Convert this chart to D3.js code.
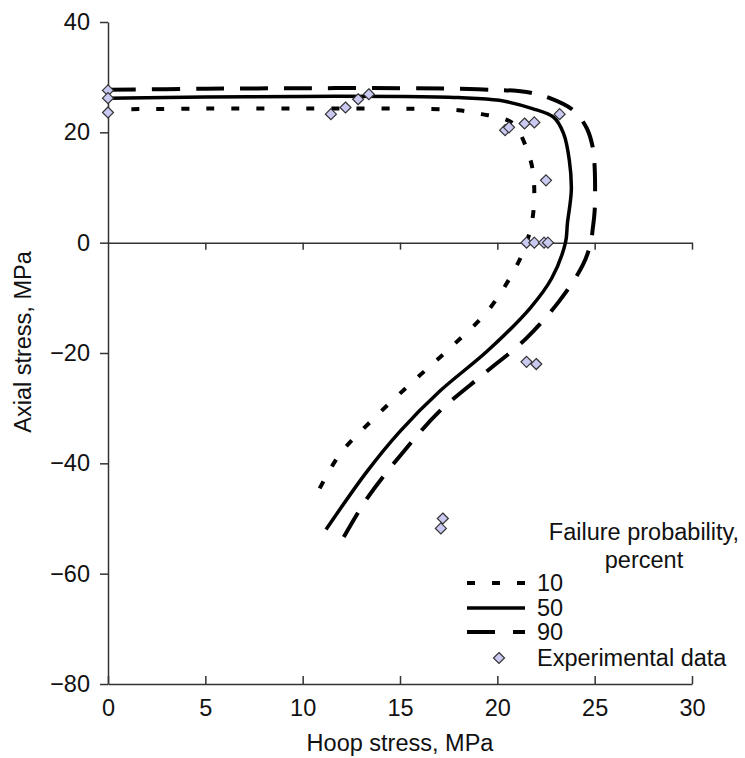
<!DOCTYPE html>
<html>
<head>
<meta charset="utf-8">
<script src="https://cdn.jsdelivr.net/npm/d3@7"></script>
<style>
  body { margin: 0; background: #fff; }
  svg text { font-family: "Liberation Sans", Arial, sans-serif; fill: #111; }
</style>
</head>
<body>
<div id="chart"></div>
<script>
// failure envelopes, hoop stress (x) vs axial stress (y), MPa
var p10Hoop  = [1.2, 5, 10, 15, 18, 19.2, 20.3, 20.9, 21.5, 21.8, 21.9, 21.8, 21.5, 20.9, 19.5, 17.6, 15.5, 13.5, 11.9, 10.6];
var p10Axial = [24.2, 24.3, 24.3, 24.3, 24.0, 23.3, 22.5, 21.3, 17.1, 13.5, 8.9, 4.2, 0, -4.8, -12.4, -19, -25.7, -32.4, -38.4, -46.4];

var p50Hoop  = [0, 5, 10, 15, 18, 20.1, 21.8, 22.9, 23.4, 23.7, 23.8, 23.6, 23.5, 22.8, 21.7, 19.5, 17.05, 15, 13.3, 11.2];
var p50Axial = [26.2, 26.4, 26.5, 26.5, 26.3, 25.8, 24.3, 22.7, 19.8, 14.9, 9.5, 3.5, 0, -6.4, -11.8, -19.6, -26.9, -34.2, -41.5, -52];

var p90Hoop  = [0, 5, 10, 15, 19, 21.5, 22.7, 23.9, 24.6, 24.9, 25, 25, 24.9, 24.8, 24.4, 23.2, 21.5, 19.3, 17.05, 15.2, 13.3, 11.9];
var p90Axial = [27.7, 27.9, 28, 28, 27.8, 27.3, 26.2, 24, 20.7, 17.3, 13.6, 5.8, 2.5, 0, -4, -10.5, -17.3, -23.8, -30.5, -37.8, -46.4, -54.7];

var expHoop  = [0, 0, 0, 11.45, 12.2, 12.85, 13.4, 20.4, 20.6, 21.4, 21.9, 23.2, 22.5, 21.5, 21.9, 22.4, 22.6, 21.5, 22, 17.2, 17.1];
var expAxial = [27.6, 26.2, 23.6, 23.3, 24.5, 26, 26.9, 20.4, 20.9, 21.6, 21.8, 23.3, 11.3, 0, 0, 0, 0, -21.6, -22, -50, -51.8];

var xTicks = [0, 5, 10, 15, 20, 25, 30];
var yTicks = [-80, -60, -40, -20, 0, 20, 40];
var seriesNames = ["10", "50", "90"];
var legendTitle = ["Failure probability,", "percent"];

var width = 745,
    height = 758;

var svg = d3.select("#chart").append("svg")
    .attr("width", width)
    .attr("height", height);

var x = d3.scaleLinear().domain([0, 30]).range([108, 692]);
var y = d3.scaleLinear().domain([-80, 40]).range([684, 22]);

var axisColor = "#333";
var fontSize = 23.5;

// y axis
var yAxis = svg.append("g")
    .attr("transform", "translate(" + x(0) + ",0)")
    .call(d3.axisLeft(y).tickValues(yTicks).tickSize(8).tickSizeOuter(0).tickPadding(10));

// bottom axis at -80, ticks pointing up
var xAxis = svg.append("g")
    .attr("transform", "translate(0," + y(-80) + ")")
    .call(d3.axisBottom(x).tickValues(xTicks).tickSize(-8).tickSizeOuter(0).tickPadding(15));

// zero line, ticks pointing down, no labels
var zeroAxis = svg.append("g")
    .attr("transform", "translate(0," + y(0) + ")")
    .call(d3.axisBottom(x).tickValues(xTicks.slice(1)).tickSize(7).tickSizeOuter(0).tickFormat(""));

[yAxis, xAxis, zeroAxis].forEach(function(g) {
    g.select(".domain").attr("stroke", axisColor).attr("stroke-width", 1.5);
    g.selectAll(".tick line").attr("stroke", axisColor).attr("stroke-width", 1.5);
    g.selectAll(".tick text")
        .style("font-family", "'Liberation Sans', Arial, sans-serif")
        .style("font-size", fontSize + "px")
        .attr("fill", "#111");
});

// axis titles
svg.append("text")
    .attr("x", (x(0) + x(30)) / 2)
    .attr("y", 751)
    .attr("text-anchor", "middle")
    .style("font-size", fontSize + "px")
    .text("Hoop stress, MPa");

svg.append("text")
    .attr("transform", "translate(31,342) rotate(-90)")
    .attr("text-anchor", "middle")
    .style("font-size", fontSize + "px")
    .text("Axial stress, MPa");

// curves
var styles = {
    "10": { dash: "8,17", width: 4 },
    "50": { dash: null, width: 3.5 },
    "90": { dash: "28,16", width: 4 }
};

var curves = [
    { name: "10", hoop: p10Hoop, axial: p10Axial },
    { name: "50", hoop: p50Hoop, axial: p50Axial },
    { name: "90", hoop: p90Hoop, axial: p90Axial }
];

var line = d3.line()
    .x(function(d) { return x(d[0]); })
    .y(function(d) { return y(d[1]); })
    .curve(d3.curveCatmullRom.alpha(0.5));

curves.forEach(function(c) {
    var pts = c.hoop.map(function(h, i) { return [h, c.axial[i]]; });
    svg.append("path")
        .datum(pts)
        .attr("d", line)
        .attr("fill", "none")
        .attr("stroke", "#000")
        .attr("stroke-width", styles[c.name].width)
        .attr("stroke-dasharray", styles[c.name].dash);
});

// experimental points
var diamond = "M0,-5.5L5.5,0L0,5.5L-5.5,0Z";
svg.selectAll(".exp")
    .data(expHoop.map(function(h, i) { return [h, expAxial[i]]; }))
    .enter().append("path")
    .attr("class", "exp")
    .attr("d", diamond)
    .attr("transform", function(d) { return "translate(" + x(d[0]) + "," + y(d[1]) + ")"; })
    .attr("fill", "#c9c9f2")
    .attr("stroke", "#333")
    .attr("stroke-width", 1.2);

// legend
var legend = svg.append("g");

legend.selectAll(".ltitle")
    .data(legendTitle)
    .enter().append("text")
    .attr("x", 644)
    .attr("y", function(d, i) { return 540 + i * 28; })
    .attr("text-anchor", "middle")
    .style("font-size", fontSize + "px")
    .text(function(d) { return d; });

var rowY = [583, 608, 632, 658];

seriesNames.forEach(function(name, i) {
    legend.append("line")
        .attr("x1", 467).attr("x2", 525)
        .attr("y1", rowY[i]).attr("y2", rowY[i])
        .attr("stroke", "#000")
        .attr("stroke-width", styles[name].width)
        .attr("stroke-dasharray", styles[name].dash ? (name == "10" ? "8,17" : "28,18") : null);
    legend.append("text")
        .attr("x", 537)
        .attr("y", rowY[i])
        .attr("dy", "0.35em")
        .style("font-size", fontSize + "px")
        .text(name);
});

legend.append("path")
    .attr("d", diamond)
    .attr("transform", "translate(499," + rowY[3] + ")")
    .attr("fill", "#c9c9f2")
    .attr("stroke", "#333")
    .attr("stroke-width", 1.2);

legend.append("text")
    .attr("x", 537)
    .attr("y", rowY[3])
    .attr("dy", "0.35em")
    .style("font-size", fontSize + "px")
    .text("Experimental data");
</script>
</body>
</html>
